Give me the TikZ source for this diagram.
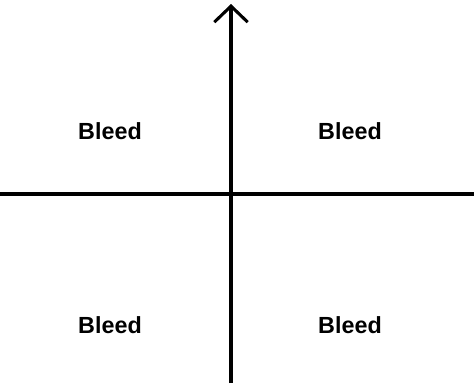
\documentclass[tikz,border=0pt]{standalone}
\usepackage{fontspec}
\setmainfont{Liberation Sans}
\usetikzlibrary{arrows.meta}
\tikzset{
  axisline/.style={draw=black, line width=2.3pt},
  axisarrow/.style={-{Straight Barb[length=12pt,width=25pt,line width=2.3pt]}, draw=black, line width=2.3pt},
  bleedlabel/.style={font=\fontsize{17.5}{21}\selectfont\bfseries, text=black, inner sep=0pt},
}
\begin{document}
\begin{tikzpicture}[x=0.75pt, y=-0.75pt]
  \useasboundingbox (0,0) rectangle (474,383);

  %% Axes
  \coordinate (xl) at (0,194);
  \coordinate (xr) at (474,194);
  \coordinate (yb) at (231,383);
  \coordinate (yt) at (231,4);
  \draw[axisline] (xl) -- (xr);
  \draw[axisarrow] (yb) -- (yt);

  %% Quadrant labels
  \node[bleedlabel] (ul) at (110,131) {Bleed};
  \node[bleedlabel] (ur) at (350,131) {Bleed};
  \node[bleedlabel] (ll) at (110,325) {Bleed};
  \node[bleedlabel] (lr) at (350,325) {Bleed};
\end{tikzpicture}
\end{document}
